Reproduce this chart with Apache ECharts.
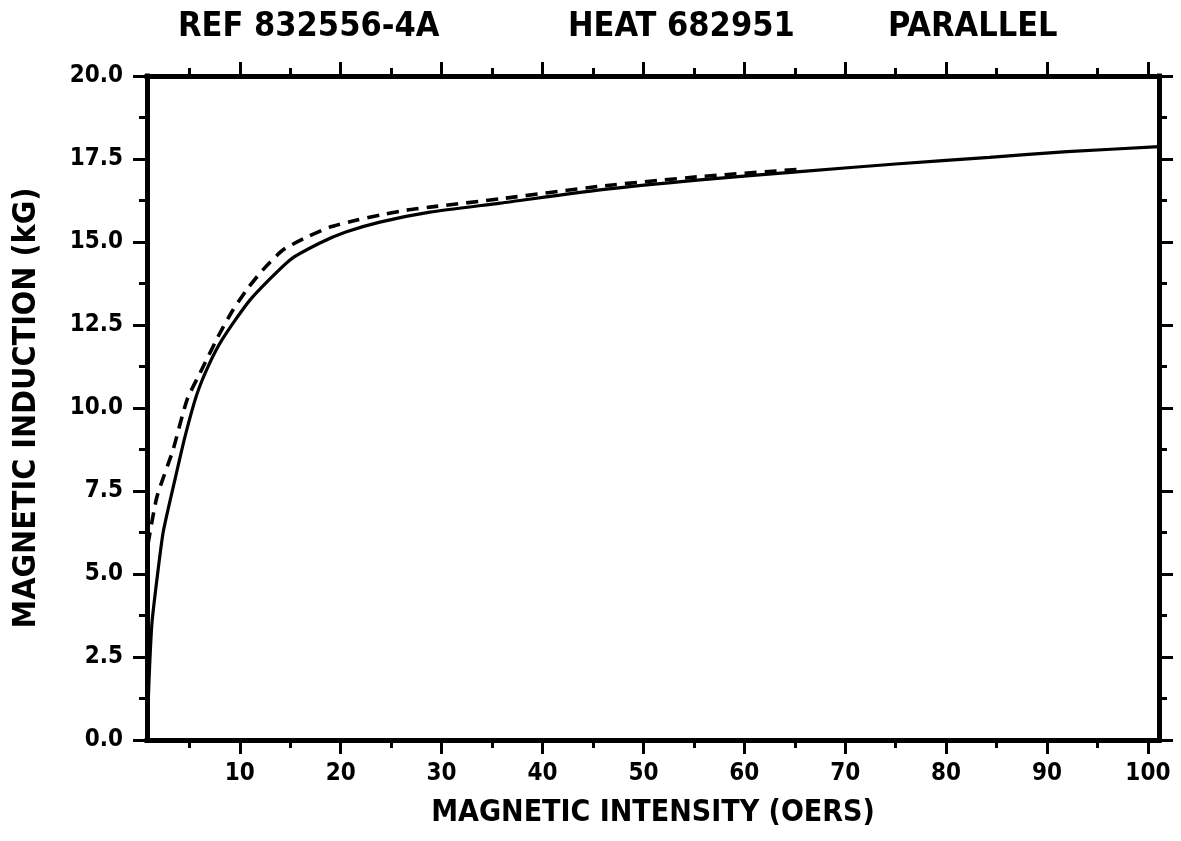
<!DOCTYPE html>
<html>
<head>
<meta charset="utf-8">
<title>Magnetization curve</title>
<script src="https://cdn.jsdelivr.net/npm/echarts@6/dist/echarts.min.js"></script>
<style>
  html, body { margin: 0; padding: 0; background: #fff; }
  #chart { width: 1181px; height: 841px; }
</style>
</head>
<body>
<div id="chart"></div>
<script>
// Magnetic intensity H (oersteds) and induction B (kilogauss)
const solidH = [0.8, 1.0, 1.29, 1.85, 2.41, 3.5, 4.56, 5.72, 6.84, 8.23, 11.0, 14.97, 17.94, 20.5, 23.88, 28.84, 35.8, 45.7, 55.6, 65.5, 75, 84.3, 92, 101.1];
const solidB = [0, 1.8, 3.52, 5.0, 6.27, 7.75, 9.13, 10.39, 11.24, 12.05, 13.25, 14.46, 14.97, 15.3, 15.6, 15.9, 16.17, 16.57, 16.87, 17.12, 17.35, 17.55, 17.72, 17.87];

const dashedH = [0.9, 1.78, 3.37, 4.76, 6.05, 8.03, 9.32, 10.8, 12.29, 14.27, 16.65, 18.93, 21.6, 23.88, 26.56, 28.84, 35.8, 45.7, 55.6, 65.5];
const dashedB = [5.9, 7.32, 8.73, 10.24, 11.05, 12.26, 12.95, 13.61, 14.16, 14.76, 15.15, 15.45, 15.66, 15.81, 15.96, 16.05, 16.3, 16.68, 16.97, 17.19];

// Axis ticks and labels
const xMajorTicks = [10, 20, 30, 40, 50, 60, 70, 80, 90, 100];
const xMinorTicks = [5, 15, 25, 35, 45, 55, 65, 75, 85, 95];
const xRange = [0.8, 101.1];
const yRange = [0, 20];
const yStep = 2.5;

const titleParts = ['REF 832556-4A', 'HEAT 682951', 'PARALLEL'];
const xName = 'MAGNETIC INTENSITY (OERS)';
const yName = 'MAGNETIC INDUCTION (kG)';

const FONT = '"DejaVu Sans Condensed", "DejaVu Sans", sans-serif';
const INK = '#000';

const zip = (a, b) => a.map((v, i) => [v, b[i]]);

const axisLineStyle = { color: INK, width: 5, cap: 'square' };
const tickStyle = { color: INK, width: 3 };

function xAxisDef(position, ticks, len, withLine, withLabels) {
  return {
    type: 'value',
    position: position,
    min: xRange[0],
    max: xRange[1],
    axisLine: { show: withLine, lineStyle: axisLineStyle },
    axisTick: { show: true, inside: false, length: len, customValues: ticks, lineStyle: tickStyle },
    axisLabel: withLabels ? {
      show: true, customValues: ticks, margin: 22,
      color: INK, fontFamily: FONT, fontWeight: 'bold', fontSize: 24
    } : { show: false },
    splitLine: { show: false },
    name: withLabels ? xName : '',
    nameLocation: 'middle',
    nameGap: 58,
    nameTextStyle: { color: INK, fontFamily: FONT, fontWeight: 'bold', fontSize: 30 }
  };
}

function yAxisDef(position, withLabels) {
  return {
    type: 'value',
    position: position,
    min: yRange[0],
    max: yRange[1],
    interval: yStep,
    axisLine: { show: true, lineStyle: axisLineStyle },
    axisTick: { show: true, inside: false, length: 14, lineStyle: tickStyle },
    minorTick: { show: true, splitNumber: 2, length: 8, lineStyle: tickStyle },
    axisLabel: withLabels ? {
      show: true, margin: 24,
      color: INK, fontFamily: FONT, fontWeight: 'bold', fontSize: 24,
      formatter: v => v.toFixed(1)
    } : { show: false },
    splitLine: { show: false },
    minorSplitLine: { show: false },
    name: withLabels ? yName : '',
    nameLocation: 'middle',
    nameGap: 104,
    nameRotate: 90,
    nameTextStyle: { color: INK, fontFamily: FONT, fontWeight: 'bold', fontSize: 32 }
  };
}

const titleLefts = [178, 568, 888];

const option = {
  backgroundColor: '#fff',
  animation: false,
  title: titleParts.map((t, i) => ({
    text: t,
    left: titleLefts[i],
    top: 10,
    padding: 0,
    textStyle: { color: INK, fontFamily: FONT, fontWeight: 'bold', fontSize: 34 }
  })),
  grid: { left: 147, right: 22, top: 76, bottom: 101, containLabel: false },
  xAxis: [
    xAxisDef('bottom', xMajorTicks, 14, true, true),
    xAxisDef('bottom', xMinorTicks, 8, false, false),
    xAxisDef('top', xMajorTicks, 14, true, false),
    xAxisDef('top', xMinorTicks, 8, false, false)
  ],
  yAxis: [
    yAxisDef('left', true),
    yAxisDef('right', false)
  ],
  series: [
    {
      name: 'solid',
      type: 'line',
      xAxisIndex: 0,
      yAxisIndex: 0,
      data: zip(solidH, solidB),
      showSymbol: false,
      smooth: 0.2,
      lineStyle: { color: INK, width: 3.2, type: 'solid' },
      z: 3
    },
    {
      name: 'dashed',
      type: 'line',
      xAxisIndex: 0,
      yAxisIndex: 0,
      data: zip(dashedH, dashedB),
      showSymbol: false,
      smooth: 0.2,
      lineStyle: { color: INK, width: 3.6, type: [12, 8] },
      z: 4
    }
  ]
};

const chart = echarts.init(document.getElementById('chart'), null, { renderer: 'canvas' });
chart.setOption(option);
</script>
</body>
</html>
